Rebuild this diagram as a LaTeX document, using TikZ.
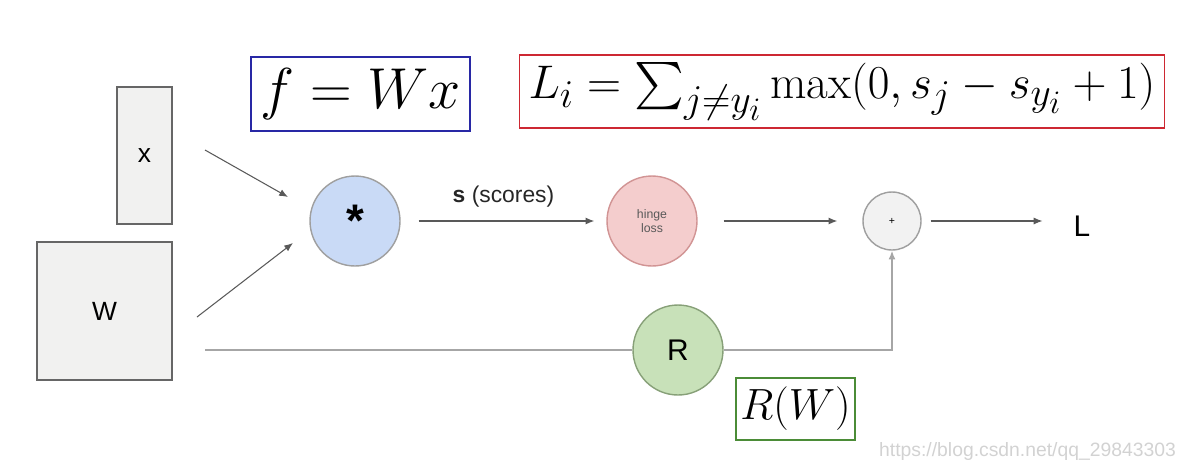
\documentclass[tikz,border=0pt]{standalone}
\usepackage{fontspec}
\usepackage{amsmath}
\usepackage{graphicx}
\newfontfamily\labelfont{Liberation Sans}
\usetikzlibrary{positioning, arrows.meta}

\definecolor{mulblue}{RGB}{201,218,246}
\definecolor{hingepink}{RGB}{244,205,205}
\definecolor{reggreen}{RGB}{200,225,185}
\definecolor{regedge}{RGB}{135,160,120}
\definecolor{plusgray}{RGB}{242,242,242}
\definecolor{boxgray}{RGB}{241,241,240}
\definecolor{framblue}{RGB}{40,40,165}
\definecolor{framred}{RGB}{205,40,50}
\definecolor{framgreen}{RGB}{75,140,55}

\begin{document}
\begin{tikzpicture}[
    x=0.02cm, y=-0.02cm,
    matbox/.style={rectangle, draw=gray!80!black, fill=boxgray, line width=0.8pt, inner sep=0pt, font=\labelfont\fontsize{15}{17}\selectfont},
    opnode/.style={circle, draw=gray!75, line width=0.8pt, minimum size=1.8cm, inner sep=0pt, font=\labelfont},
    frame/.style={rectangle, line width=1pt, inner sep=0pt, font=\Huge},
    connect/.style={-{Latex[length=5pt, width=4pt]}, gray!70!black, line width=0.6pt},
    plain/.style={gray!70, line width=0.8pt}
]

    % --- CANVAS ---
    \useasboundingbox (0,0) rectangle (1198,468);

    % --- INPUTS ---
    \node[matbox, minimum width=1.1cm, minimum height=2.74cm] (xvec) at (144.5,155.5) {x};
    \node[matbox, minimum width=2.7cm, minimum height=2.76cm] (wmat) at (104.5,311) {W};

    % --- OPERATIONS ---
    \node[opnode, fill=mulblue, font=\labelfont\bfseries\fontsize{26}{28}\selectfont] (mul) at (355,221) {\raisebox{-7pt}{*}};
    \node[opnode, fill=hingepink, draw=gray!60!red!60, font=\labelfont\fontsize{7}{8}\selectfont, text=gray!70!black, align=center] (hinge) at (652,221) {hinge\\loss};
    \node[opnode, fill=plusgray, minimum size=1.16cm, font=\labelfont\fontsize{6}{7}\selectfont] (plus) at (892,221) {+};
    \node[opnode, fill=reggreen, draw=regedge, font=\labelfont\fontsize{17}{19}\selectfont] (reg) at (678,350) {R};
    \node[font=\labelfont\fontsize{17}{19}\selectfont] (loss) at (1082,226) {L};

    % --- FORMULAS ---
    % math fonts stop at \Huge, so the two big ones are scaled up
    \node[frame, draw=framblue, minimum width=4.38cm, minimum height=1.48cm] (fwx) at (360.5,94) {\scalebox{1.32}{$f = Wx$}};
    \node[frame, draw=framred, minimum width=12.9cm, minimum height=1.46cm] (hingeeq) at (842,91.5) {\scalebox{1.08}{$L_i = \sum_{j \neq y_i} \max(0, s_j - s_{y_i} + 1)$}};
    \node[frame, draw=framgreen, minimum width=2.38cm, minimum height=1.24cm] (regeq) at (795.5,409) {$R(W)$};

    % --- FREE ENDS ---
    \coordinate (x-out) at (205,150);
    \coordinate (x-in) at (288,197);
    \coordinate (w-out) at (197,317);
    \coordinate (w-in) at (293,243);
    \coordinate (w-reg) at (205,350);

    % --- CONNECTIONS ---
    \draw[connect] (x-out) -- (x-in);
    \draw[connect] (w-out) -- (w-in);
    \draw[connect, shorten <=0.36cm, shorten >=0.24cm] (mul) -- (hinge)
        node[midway, above=4pt, font=\labelfont\fontsize{13}{15}\selectfont, text=black!85] (scores) {\textbf{s} (scores)};
    \draw[connect, shorten <=0.52cm, shorten >=0.5cm] (hinge) -- (plus);
    \draw[connect, shorten <=0.18cm, shorten >=0.5cm] (plus.east) -- (plus -| loss.west);
    \draw[plain] (w-reg) -- (reg);
    \draw[plain, -{Latex[length=5pt, width=4pt]}] (reg) -| (plus);

    % --- WATERMARK ---
    \node[font=\labelfont\fontsize{11}{13}\selectfont, text=gray!35, anchor=east] (mark) at (1182,451) {https://blog.csdn.net/qq\_29843303};

\end{tikzpicture}
\end{document}
